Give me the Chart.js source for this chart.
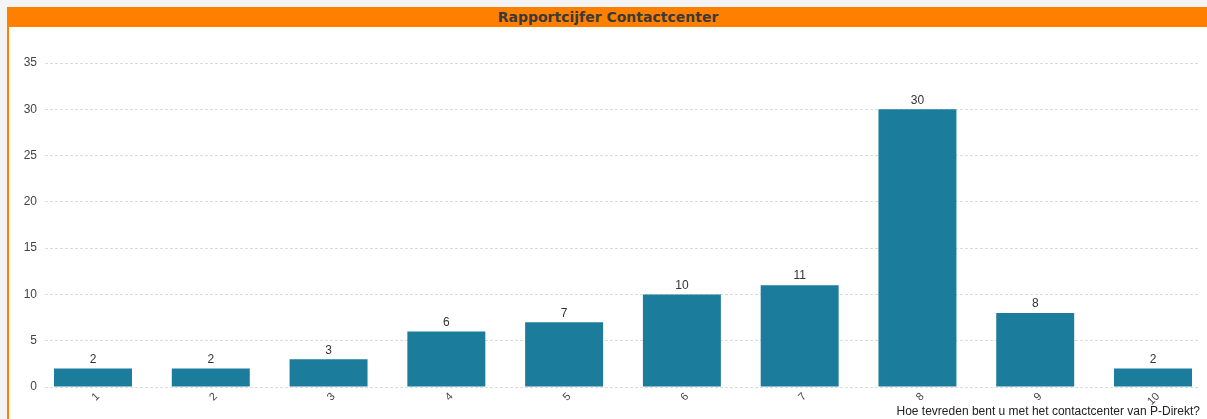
<!DOCTYPE html>
<html>
<head>
<meta charset="utf-8">
<script src="https://cdn.jsdelivr.net/npm/chart.js@4/dist/chart.umd.min.js"></script>
<style>
  html, body { margin:0; padding:0; width:1207px; height:419px; overflow:hidden; background:#f4f4f4; }
  #panel { position:absolute; left:7px; top:7px; right:0; bottom:0; background:#fff; border-left:2px solid #ff8000; }
  #hdr { position:absolute; left:0; top:0; right:0; height:20px; background:#ff8000; color:#3a3a3a;
         font:bold 14px "DejaVu Sans", Verdana, sans-serif; text-align:center; line-height:20px; }
  #wrap { position:absolute; left:0; top:0; width:1207px; height:419px; }
</style>
</head>
<body>
<div id="panel"><div id="hdr">Rapportcijfer Contactcenter</div></div>
<div id="wrap"><canvas id="c" width="1207" height="419"></canvas></div>
<script>
const categories = ['1','2','3','4','5','6','7','8','9','10'];
const counts = [2, 2, 3, 6, 7, 10, 11, 30, 8, 2];
const yTicks = [0, 5, 10, 15, 20, 25, 30, 35];
const axisTitle = 'Hoe tevreden bent u met het contactcenter van P-Direkt?';

const points = categories.map((c, i) => ({ x: Number(c), y: counts[i] }));

const valueLabels = {
  id: 'valueLabels',
  afterDatasetsDraw(chart) {
    const ctx = chart.ctx;
    const meta = chart.getDatasetMeta(0);
    ctx.save();
    ctx.font = '12px "Liberation Sans", Arial, sans-serif';
    ctx.fillStyle = '#333';
    ctx.textAlign = 'center';
    ctx.textBaseline = 'bottom';
    meta.data.forEach((bar, i) => {
      ctx.fillText(String(counts[i]), bar.x, bar.y - 3);
    });
    ctx.restore();
  }
};

new Chart(document.getElementById('c'), {
  type: 'bar',
  data: {
    datasets: [{
      data: points,
      backgroundColor: '#1c7c9c',
      borderWidth: 0,
      categoryPercentage: 1,
      barPercentage: 0.662
    }]
  },
  options: {
    responsive: false,
    animation: false,
    layout: { padding: { left: 0, right: 7, top: 63, bottom: 0 } },
    plugins: { legend: { display: false }, tooltip: { enabled: false } },
    scales: {
      x: {
        type: 'linear',
        offset: false,
        min: 0.5925,
        max: 10.399,
        afterBuildTicks(s) { s.ticks = categories.map(c => ({ value: Number(c) })); },
        afterFit(s) { s.height = 32; },
        grid: { display: false, drawTicks: false, offset: false },
        border: { display: false },
        ticks: {
          autoSkip: false,
          minRotation: 45,
          maxRotation: 45,
          padding: 3,
          labelOffset: 5,
          color: '#444',
          font: { family: '"Liberation Sans", Arial, sans-serif', size: 11 },
          callback: (v) => String(v)
        },
        title: {
          display: true,
          text: axisTitle,
          align: 'end',
          color: '#222',
          padding: { top: 0, bottom: 0 },
          font: { family: '"Liberation Sans", Arial, sans-serif', size: 12 }
        }
      },
      y: {
        min: 0,
        max: 35,
        afterFit(s) { s.width = 45; },
        afterBuildTicks(s) { s.ticks = yTicks.map(v => ({ value: v })); },
        grid: { color: '#dcdcdc', lineWidth: 1, drawTicks: false },
        border: { display: false, dash: [3, 2] },
        ticks: {
          padding: 8,
          color: '#444',
          font: { family: '"Liberation Sans", Arial, sans-serif', size: 12 }
        }
      }
    }
  },
  plugins: [valueLabels]
});
</script>
</body>
</html>
